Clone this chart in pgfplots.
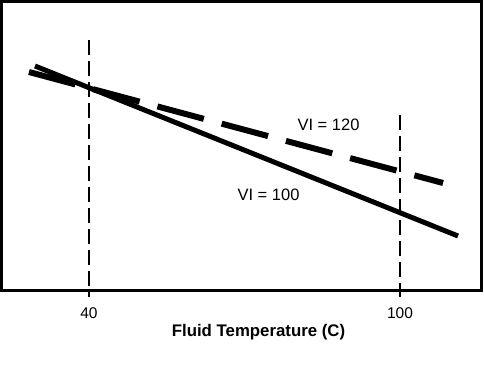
\documentclass[border=0pt]{standalone}
\usepackage{pgfplots}
\pgfplotsset{compat=1.18}
\usepackage{fontspec}
\setmainfont{Liberation Sans}
\begin{document}
\begin{tikzpicture}[x=1pt,y=1pt]
\begin{axis}[
  at={(0pt,0pt)}, anchor=origin,
  scale only axis, width=480pt, height=289pt,
  xmin=23.12, xmax=115.72, ymin=0, ymax=289,
  axis line style={line width=2.6pt},
  ytick=\empty,
  xtick={40,100},
  major tick length=0pt,
  xticklabel style={anchor=center, yshift=-22.5pt, font=\fontsize{15.5}{18}\selectfont},
  xlabel={\textbf{Fluid Temperature (C)}},
  xlabel style={at={(axis description cs:0.5,0)}, anchor=center, yshift=-41.5pt, xshift=17pt, font=\fontsize{16.8}{19}\selectfont},
  clip=false,
  /pgf/number format/assume math mode=true,
]
\addplot[black, line width=1.8pt, dash pattern=on 15pt off 6pt] coordinates {(40,250.5) (40,-6.5)};
\addplot[black, line width=1.8pt, dash pattern=on 15pt off 6pt] coordinates {(100,175.5) (100,-6.5)};
\addplot[black, line width=5pt] coordinates {(29.58,224.5) (111.19,54.5)};
\addplot[black, line width=6pt, dash pattern=on 48pt off 18.5pt] coordinates {(28.42,218.5) (108.30,107.5)};
\node[font=\fontsize{16.5}{19}\selectfont] at (axis cs:86.21,166) {VI = 120};
\node[font=\fontsize{16.5}{19}\selectfont] at (axis cs:74.63,95.5) {VI = 100};
\end{axis}
\pgfresetboundingbox
\path[use as bounding box] (-1.5pt,-73.5pt) rectangle (482.5pt,290.5pt);
\end{tikzpicture}
\end{document}
